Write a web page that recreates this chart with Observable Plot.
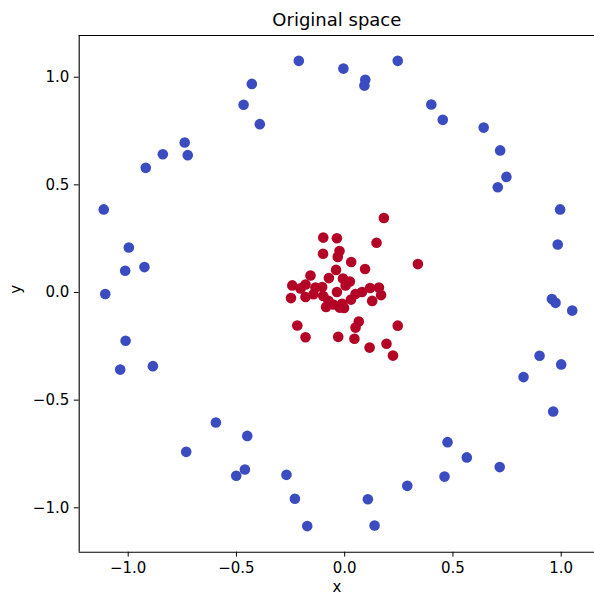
<!DOCTYPE html>
<html>
<head>
<meta charset="utf-8">
<script src="https://cdn.jsdelivr.net/npm/d3@7"></script>
<script src="https://cdn.jsdelivr.net/npm/@observablehq/plot@0.6"></script>
<style>
  html, body { margin: 0; padding: 0; background: #fff; }
  svg { display: block; }
</style>
</head>
<body>
<div id="chart"></div>
<script>
const title = "Original space";
const xLabel = "x";
const yLabel = "y";
const tickValues = [-1.0, -0.5, 0.0, 0.5, 1.0];
const classColors = ["#3b4cc0", "#b40426"];

// Outer circle (class 0)
const outerX = [-0.212, -0.429, -0.467, -0.392, -0.739, -0.725, -0.840, -0.919, -1.113, -0.997,
  -1.014, -0.925, -1.106, -0.006, 0.095, 0.091, 0.245, 0.400, 0.453, 0.642,
  0.718, 0.747, 0.707, 0.995, 0.984, 0.957, 0.974, 1.051, 0.900, 1.000,
  0.826, 0.963, 0.475, 0.564, 0.716, 0.461, 0.289, 0.107, 0.138, -0.173,
  -0.230, -1.012, -1.037, -0.886, -0.595, -0.450, -0.732, -0.461, -0.501, -0.269];
const outerY = [1.076, 0.969, 0.872, 0.782, 0.697, 0.638, 0.642, 0.579, 0.386, 0.209,
  0.101, 0.118, -0.007, 1.040, 0.988, 0.961, 1.076, 0.873, 0.802, 0.766,
  0.660, 0.537, 0.489, 0.386, 0.223, -0.030, -0.048, -0.084, -0.294, -0.334,
  -0.393, -0.553, -0.695, -0.766, -0.811, -0.855, -0.898, -0.960, -1.082, -1.085,
  -0.958, -0.224, -0.358, -0.342, -0.604, -0.666, -0.740, -0.822, -0.851, -0.847];

// Inner cluster (class 1)
const innerX = [0.181, -0.099, -0.036, 0.147, -0.100, -0.024, -0.032, 0.338, 0.030, 0.094,
  -0.040, -0.158, -0.073, -0.008, 0.024, -0.242, -0.181, -0.135, -0.104, -0.036,
  0.050, 0.080, 0.117, 0.158, 0.168, 0.127, 0.029, -0.248, -0.181, -0.144,
  -0.099, -0.075, -0.053, -0.023, -0.003, -0.086, 0.065, 0.050, -0.219, -0.181,
  -0.030, 0.045, 0.245, 0.115, 0.193, 0.223, -0.012, 0.004, -0.204];
const innerY = [0.346, 0.255, 0.252, 0.231, 0.180, 0.193, 0.165, 0.132, 0.142, 0.109,
  0.105, 0.079, 0.067, 0.065, 0.051, 0.033, 0.037, 0.023, 0.025, 0.002,
  -0.007, 0.002, 0.021, 0.023, -0.012, -0.039, -0.033, -0.026, -0.021, -0.008,
  -0.016, -0.039, -0.056, -0.070, -0.072, -0.067, -0.135, -0.163, -0.153, -0.208,
  -0.206, -0.215, -0.154, -0.256, -0.238, -0.293, -0.052, 0.033, 0.019];

const points = [
  ...outerX.map((x, i) => ({x, y: outerY[i], cls: 0})),
  ...innerX.map((x, i) => ({x, y: innerY[i], cls: 1}))
];

const W = 594, H = 595;
const mL = 78.7, mR = 0, mT = 35, mB = 43.3;
const xDomain = [-1.2263, 1.1538];
const yDomain = [-1.2062, 1.1937];
const fmt = d => d.toFixed(1).replace("-", "\u2212");

const chart = Plot.plot({
  width: W,
  height: H,
  marginLeft: mL,
  marginRight: mR,
  marginTop: mT,
  marginBottom: mB,
  style: {fontFamily: "DejaVu Sans", fontSize: "15px", color: "#000", background: "#fff"},
  x: {domain: xDomain, label: null},
  y: {domain: yDomain, label: null},
  color: {domain: [0, 1], range: classColors},
  marks: [
    Plot.axisX({ticks: tickValues, tickFormat: fmt, tickSize: 4.9, tickPadding: 5, fontSize: 15, label: null}),
    Plot.axisY({ticks: tickValues, tickFormat: fmt, tickSize: 4.9, tickPadding: 5, fontSize: 15, label: null}),
    Plot.ruleX([xDomain[0]], {stroke: "#000", strokeWidth: 1.1}),
    Plot.ruleY([yDomain[0], yDomain[1]], {stroke: "#000", strokeWidth: 1.1}),
    Plot.dot(points, {x: "x", y: "y", fill: "cls", r: 5.3, stroke: null}),
    Plot.text([title], {frameAnchor: "top", dy: -15, fontSize: 18, fill: "#000", lineAnchor: "middle"}),
    Plot.text([xLabel], {frameAnchor: "bottom", dy: 34.5, fontSize: 15, fill: "#000", lineAnchor: "middle"}),
    Plot.text([yLabel], {frameAnchor: "left", dx: -63, rotate: -90, fontSize: 15, fill: "#000", lineAnchor: "middle"})
  ]
});
document.getElementById("chart").appendChild(chart);
</script>
</body>
</html>
